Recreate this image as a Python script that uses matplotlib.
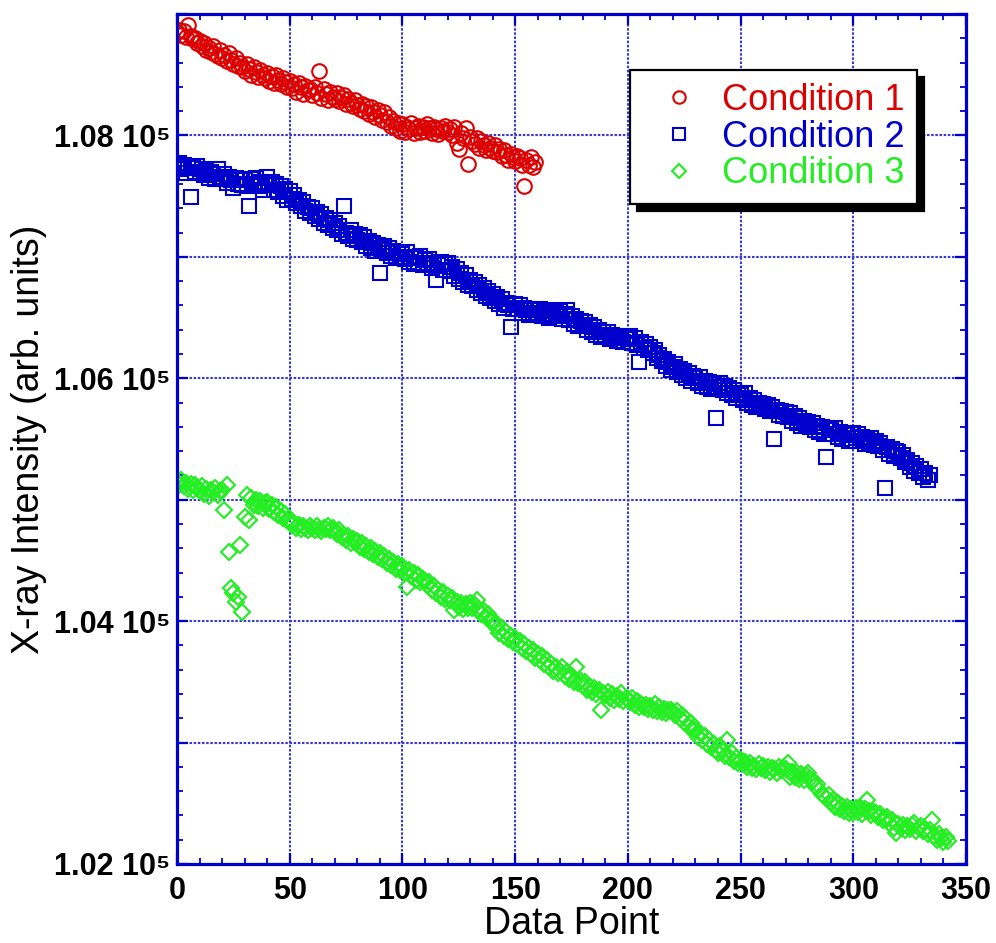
import numpy as np
import matplotlib
matplotlib.use("Agg")
import matplotlib.pyplot as plt
from matplotlib.ticker import MultipleLocator, FuncFormatter

plt.rcParams["font.family"] = ["Liberation Sans", "DejaVu Sans"]

# Condition 1 (red circles), one value per data point
cond1 = [
    108850, 108870, 108830, 108860, 108810, 108905, 108820, 108790, 108800, 108760,
    108780, 108740, 108760, 108700, 108720, 108690, 108740, 108670, 108650, 108700,
    108640, 108660, 108610, 108680, 108620, 108590, 108640, 108570, 108600, 108560,
    108530, 108590, 108550, 108500, 108560, 108520, 108480, 108540, 108500, 108470,
    108510, 108450, 108490, 108430, 108500, 108460, 108420, 108470, 108440, 108400,
    108450, 108390, 108420, 108360, 108430, 108400, 108340, 108410, 108370, 108380,
    108330, 108400, 108350, 108527, 108310, 108380, 108340, 108290, 108360, 108320,
    108300, 108350, 108280, 108310, 108330, 108260, 108300, 108270, 108240, 108290,
    108250, 108220, 108260, 108200, 108240, 108180, 108230, 108190, 108150, 108210,
    108170, 108130, 108190, 108110, 108150, 108080, 108120, 108060, 108100, 108040,
    108090, 108030, 108070, 108050, 108100, 108020, 108060, 108080, 108030, 108070,
    108040, 108090, 108060, 108020, 108070, 108050, 108010, 108060, 108040, 108080,
    108030, 108050, 108000, 108070, 107940, 107890, 108020, 107980, 108060, 107761,
    107990, 107950, 107930, 107980, 107900, 107950, 107920, 107880, 107940, 107900,
    107870, 107920, 107860, 107890, 107830, 107880, 107840, 107800, 107850, 107820,
    107790, 107830, 107810, 107760, 107580, 107800, 107760, 107820, 107740, 107780,
]

# Condition 2 (blue squares)
cond2 = [
    107750, 107770, 107720, 107760, 107690, 107740, 107490, 107730, 107700, 107750,
    107690, 107720, 107670, 107710, 107650, 107700, 107680, 107640, 107720, 107660,
    107640, 107680, 107610, 107660, 107630, 107570, 107650, 107600, 107640, 107590,
    107630, 107580, 107415, 107640, 107600, 107650, 107580, 107620, 107550, 107600,
    107660, 107590, 107620, 107550, 107600, 107530, 107580, 107500, 107560, 107470,
    107540, 107480, 107510, 107440, 107470, 107420, 107450, 107380, 107410, 107360,
    107400, 107340, 107370, 107310, 107350, 107280, 107320, 107260, 107300, 107240,
    107280, 107220, 107250, 107190, 107415, 107200, 107170, 107220, 107150, 107190,
    107140, 107180, 107120, 107160, 107090, 107130, 107070, 107110, 107050, 107100,
    106870, 107060, 107090, 107030, 107070, 107010, 107050, 106990, 107030, 107000,
    107020, 106980, 107040, 106960, 107000, 106940, 106990, 106950, 107010, 106930,
    106970, 106940, 106980, 106910, 106950, 106810, 106930, 106960, 106890, 106940,
    106950, 106880, 106920, 106840, 106900, 106820, 106870, 106790, 106850, 106770,
    106810, 106760, 106790, 106730, 106770, 106700, 106740, 106680, 106720, 106660,
    106690, 106640, 106670, 106610, 106650, 106580, 106620, 106600, 106418, 106570,
    106610, 106570, 106600, 106540, 106580, 106560, 106520, 106570, 106530, 106560,
    106540, 106570, 106510, 106550, 106530, 106500, 106560, 106520, 106540, 106510,
    106550, 106490, 106530, 106566, 106480, 106510, 106450, 106490, 106430, 106470,
    106430, 106460, 106400, 106440, 106380, 106420, 106360, 106400, 106340, 106380,
    106350, 106380, 106320, 106360, 106340, 106310, 106350, 106330, 106300, 106340,
    106320, 106350, 106290, 106330, 106270, 106130, 106300, 106250, 106280, 106230,
    106260, 106210, 106230, 106170, 106190, 106140, 106160, 106100, 106130, 106070,
    106090, 106120, 106050, 106080, 106030, 106060, 106000, 106040, 105980, 106020,
    106000, 105960, 106010, 105940, 105980, 105930, 105970, 105910, 105950, 105676,
    105930, 105960, 105900, 105940, 105880, 105920, 105860, 105900, 105840, 105880,
    105860, 105820, 105880, 105800, 105840, 105780, 105820, 105760, 105800, 105770,
    105790, 105750, 105780, 105730, 105760, 105503, 105740, 105700, 105730, 105690,
    105720, 105680, 105710, 105650, 105690, 105630, 105670, 105610, 105650, 105620,
    105640, 105600, 105630, 105570, 105610, 105560, 105600, 105540, 105354, 105580,
    105570, 105540, 105590, 105520, 105560, 105500, 105550, 105530, 105480, 105540,
    105550, 105510, 105540, 105480, 105520, 105460, 105500, 105470, 105510, 105450,
    105480, 105440, 105470, 105410, 105099, 105430, 105380, 105420, 105360, 105400,
    105390, 105340, 105370, 105310, 105330, 105270, 105300, 105240, 105280, 105220,
    105250, 105190, 105220, 105160, 105200,
]

# Condition 3 (green diamonds)
cond3 = [
    105150, 105120, 105160, 105110, 105140, 105090, 105130, 105080, 105120, 105100,
    105070, 105110, 105050, 105090, 105030, 105080, 105060, 105100, 105040, 105070,
    105080, 104918, 105124, 104572, 104275, 104234, 104160, 104200, 104629, 104077,
    104860, 105040, 104835, 105010, 104960, 105000, 104950, 104990, 104930, 104970,
    104980, 104920, 104960, 104900, 104940, 104870, 104910, 104850, 104880, 104830,
    104820, 104790, 104810, 104770, 104790, 104760, 104780, 104770, 104750, 104780,
    104770, 104750, 104780, 104760, 104740, 104770, 104760, 104780, 104750, 104770,
    104740, 104720, 104750, 104690, 104710, 104670, 104700, 104640, 104680, 104650,
    104660, 104610, 104640, 104590, 104620, 104570, 104600, 104550, 104580, 104530,
    104560, 104510, 104540, 104480, 104510, 104460, 104490, 104430, 104470, 104420,
    104450, 104400, 104283, 104420, 104370, 104400, 104340, 104380, 104320, 104350,
    104330, 104300, 104320, 104260, 104290, 104230, 104260, 104200, 104240, 104180,
    104210, 104170, 104190, 104090, 104160, 104120, 104150, 104100, 104140, 104110,
    104150, 104110, 104130, 104176, 104090, 104060, 104080, 104030, 104060, 104010,
    104000, 103960, 103980, 103900, 103940, 103880, 103910, 103850, 103880, 103830,
    103860, 103810, 103840, 103780, 103810, 103750, 103780, 103730, 103760, 103700,
    103730, 103680, 103710, 103650, 103680, 103620, 103650, 103590, 103620, 103570,
    103590, 103620, 103550, 103580, 103520, 103550, 103500, 103624, 103490, 103510,
    103470, 103500, 103434, 103460, 103420, 103450, 103400, 103430, 103269, 103410,
    103390, 103420, 103370, 103400, 103350, 103380, 103360, 103409, 103340, 103370,
    103360, 103330, 103370, 103310, 103340, 103294, 103320, 103290, 103310, 103280,
    103300, 103270, 103320, 103260, 103290, 103250, 103280, 103240, 103270, 103269,
    103250, 103230, 103260, 103200, 103228, 103170, 103190, 103130, 103160, 103110,
    103100, 103047, 103080, 103020, 103050, 102990, 103020, 102960, 102990, 102940,
    102915, 102970, 102930, 102890, 103022, 102880, 102910, 102850, 102870, 102830,
    102860, 102820, 102840, 102800, 102830, 102790, 102810, 102780, 102820, 102790,
    102810, 102770, 102800, 102760, 102790, 102780, 102750, 102800, 102770, 102790,
    102780, 102833, 102717, 102760, 102720, 102750, 102700, 102740, 102690, 102730,
    102750, 102700, 102680, 102640, 102660, 102610, 102580, 102560, 102540, 102570,
    102510, 102530, 102470, 102500, 102450, 102480, 102440, 102470, 102420, 102450,
    102420, 102460, 102430, 102470, 102410, 102450, 102527, 102440, 102400, 102430,
    102420, 102390, 102410, 102360, 102380, 102387, 102340, 102360, 102300, 102256,
    102330, 102300, 102320, 102280, 102310, 102290, 102320, 102338, 102270, 102300,
    102310, 102270, 102290, 102250, 102280, 102363, 102230, 102198, 102250, 102210,
    102181, 102220, 102190,
]

labels = ["Condition 1", "Condition 2", "Condition 3"]
colors = ["#DD0000", "#0000CC", "#22EE22"]

fig = plt.figure(figsize=(9.96, 9.43), dpi=100)
ax = fig.add_axes([0.1777, 0.0838, 0.7922, 0.9014])

ax.plot(np.arange(len(cond1)), cond1, linestyle="none", marker="o", ms=10.5,
        mfc="none", mec=colors[0], mew=1.5, label=labels[0])
ax.plot(np.arange(len(cond2)), cond2, linestyle="none", marker="s", ms=10,
        mfc="none", mec=colors[1], mew=1.5, label=labels[1])
ax.plot(np.arange(len(cond3)), cond3, linestyle="none", marker="D", ms=7.8,
        mfc="none", mec=colors[2], mew=1.5, label=labels[2])

ax.set_xlim(0, 350)
ax.set_ylim(102000, 109000)

# ticks: grid every 50 / 1000, labels only every 2000 on y
ax.xaxis.set_major_locator(MultipleLocator(50))
ax.xaxis.set_minor_locator(MultipleLocator(10))
ax.yaxis.set_major_locator(MultipleLocator(1000))
ax.yaxis.set_minor_locator(MultipleLocator(200))


def yfmt(v, pos):
    if int(round(v)) % 2000 == 0:
        return "%.2f 10\u2075" % (v / 1e5)
    return ""


ax.yaxis.set_major_formatter(FuncFormatter(yfmt))

blue = "#0000CC"
ax.tick_params(which="both", direction="in", top=True, right=True, color=blue)
ax.tick_params(which="major", length=8, width=1.6)
ax.tick_params(which="minor", length=4.5, width=1.3)
ax.tick_params(axis="x", pad=9)
ax.tick_params(axis="y", pad=5)
for lab in ax.get_xticklabels() + ax.get_yticklabels():
    lab.set_fontsize(22)
    lab.set_fontweight("bold")

for s in ax.spines.values():
    s.set_color(blue)
    s.set_linewidth(2.3)

ax.grid(True, which="major", color="#3838E0", linestyle=(0, (1.2, 0.8)), linewidth=1.5)

ax.set_xlabel("Data Point", fontsize=27)
ax.set_ylabel("X-ray Intensity (arb. units)", fontsize=27)
ax.xaxis.set_label_coords(0.5, -0.05)
ax.yaxis.set_label_coords(-0.165, 0.5)

leg = ax.legend(loc="upper right", bbox_to_anchor=(0.938, 0.934), borderaxespad=0,
                fontsize=26, fancybox=False, handletextpad=0.2, labelspacing=0.05,
                borderpad=0.35, handlelength=2.0, markerscale=0.85,
                shadow={"ox": 5, "oy": -5, "facecolor": "black", "edgecolor": "black", "alpha": 1})
leg.get_frame().set_edgecolor("black")
leg.get_frame().set_linewidth(1.6)
for txt, c in zip(leg.get_texts(), colors):
    txt.set_color(c)

fig.savefig("out.png", dpi=100)
